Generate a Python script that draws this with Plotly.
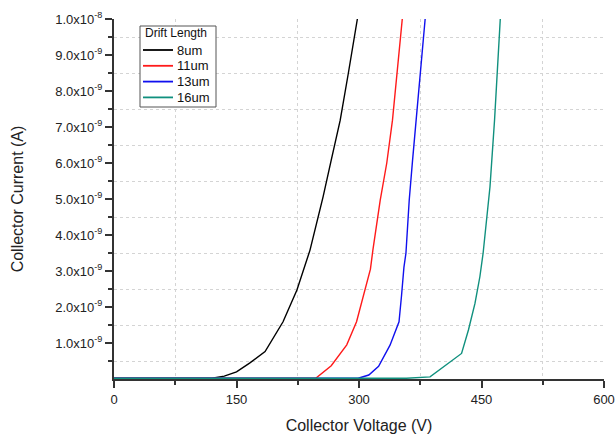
import plotly.graph_objects as go

# Collector voltage (V) and collector current (units of 1e-9 A)
v_8um = [0, 120, 135, 150, 166, 185, 207, 224, 240, 256, 266, 277, 287, 298]
i_8um = [0.02, 0.02, 0.08, 0.2, 0.44, 0.76, 1.59, 2.47, 3.58, 5.06, 6.08, 7.19, 8.5, 10.0]

v_11um = [0, 247, 266, 285, 297, 307, 314, 317, 326, 334, 341, 353]
i_11um = [0.02, 0.02, 0.37, 0.95, 1.59, 2.47, 3.05, 3.58, 4.97, 6.0, 7.19, 10.0]

v_13um = [0, 299, 312, 324, 338, 349, 352, 355, 357.5, 361.5, 365.6, 369.7, 381]
i_13um = [0.02, 0.02, 0.11, 0.35, 0.94, 1.59, 2.3, 3.1, 3.5, 4.97, 6.08, 7.19, 10.0]

v_16um = [0, 358, 387, 407, 425.6, 434, 442, 448, 452, 460.4, 466, 473]
i_16um = [0.02, 0.02, 0.06, 0.39, 0.71, 1.36, 2.1, 2.84, 3.5, 5.34, 7.2, 10.0]

series_names = ["8um", "11um", "13um", "16um"]
series_colors = ["#000000", "#ff1a1a", "#1010ee", "#10907e"]
legend_title = "Drift Length"

y_tick_vals = [1e-9 * k for k in range(1, 11)]
y_tick_text = ["%d.0x10<sup>-9</sup>" % k for k in range(1, 10)] + ["1.0x10<sup>-8</sup>"]
y_grid_vals = [1e-9 * k for k in range(1, 10)]
y_minor_vals = [1e-9 * (k + 0.5) for k in range(0, 10)]
x_tick_vals = [0, 150, 300, 450, 600]
x_grid_vals = [150, 300, 450]
x_minor_vals = [75, 225, 375, 525]

data = [(v_8um, i_8um), (v_11um, i_11um), (v_13um, i_13um), (v_16um, i_16um)]

fig = go.Figure()
for (vx, iy), name, col in zip(data, series_names, series_colors):
    fig.add_trace(go.Scatter(
        x=vx, y=[val * 1e-9 for val in iy], mode="lines", name=name,
        line=dict(color=col, width=1.4), showlegend=False,
    ))

font_family = "Liberation Sans, Arial, sans-serif"
fig.update_layout(
    width=616, height=437,
    margin=dict(l=114, r=12, t=19, b=58),
    paper_bgcolor="white", plot_bgcolor="white",
    font=dict(family=font_family, color="#222", size=13),
    showlegend=False,
)

# ---- legend box (pixel layout converted to paper coordinates) ----
def px_to_paper(px, py):
    return (px - 114) / 490.0, (379 - py) / 360.0

bx0, by0 = px_to_paper(140, 107)
bx1, by1 = px_to_paper(216, 26)
fig.add_shape(type="rect", xref="paper", yref="paper", x0=bx0, y0=by0, x1=bx1, y1=by1,
              line=dict(color="#555", width=1), fillcolor="white", layer="above")
tx, ty = px_to_paper(143, 33.5)
fig.add_annotation(xref="paper", yref="paper", x=tx, y=ty, text=legend_title,
                   showarrow=False, xanchor="left", yanchor="middle",
                   font=dict(size=12, color="#111"))
for k, (name, col) in enumerate(zip(series_names, series_colors)):
    row_y = 50 + k * 15.8
    lx0, ly = px_to_paper(143, row_y)
    lx1, _ = px_to_paper(173, row_y)
    fig.add_shape(type="line", xref="paper", yref="paper", x0=lx0, x1=lx1, y0=ly, y1=ly,
                  line=dict(color=col, width=1.8), layer="above")
    ax_, ay_ = px_to_paper(175, row_y)
    fig.add_annotation(xref="paper", yref="paper", x=ax_, y=ay_, text=name,
                       showarrow=False, xanchor="left", yanchor="middle",
                       font=dict(size=13, color="#111"))

fig.update_xaxes(
    range=[0, 600], tickmode="array", tickvals=x_tick_vals,
    ticktext=[str(t) for t in x_tick_vals],
    showline=True, linecolor="#333", linewidth=2, mirror=False,
    ticks="outside", ticklen=7, tickwidth=1.5, tickcolor="#333",
    showgrid=False, zeroline=False, automargin=False,
    tickfont=dict(size=13),
    title=dict(text="Collector Voltage (V)", font=dict(size=16), standoff=14),
    minor=dict(tickmode="array", tickvals=x_minor_vals, ticks="outside",
               ticklen=4, tickwidth=1.5, tickcolor="#333",
               showgrid=True, gridcolor="#d4d4d4", griddash="dot", gridwidth=1),
)
fig.update_yaxes(
    range=[0, 1e-8], tickmode="array", tickvals=y_tick_vals, ticktext=y_tick_text,
    showline=True, linecolor="#333", linewidth=2, mirror=False,
    ticks="outside", ticklen=7, tickwidth=1.5, tickcolor="#333",
    showgrid=False, zeroline=False, automargin=False,
    tickfont=dict(size=13),
    title=dict(text="Collector Current (A)", font=dict(size=16), standoff=28),
    minor=dict(tickmode="array", tickvals=y_minor_vals, ticks="outside",
               ticklen=4, tickwidth=1.5, tickcolor="#333",
               showgrid=True, gridcolor="#d4d4d4", griddash="dot", gridwidth=1),
)
# overlay axes that carry only the solid interior grid lines
fig.update_layout(
    xaxis2=dict(overlaying="x", anchor="y", range=[0, 600], tickmode="array",
                tickvals=x_grid_vals, showticklabels=False, ticks="",
                showgrid=True, gridcolor="#b8b8b8", gridwidth=1,
                showline=False, zeroline=False, automargin=False, side="bottom"),
    yaxis2=dict(overlaying="y", anchor="x", range=[0, 1e-8], tickmode="array",
                tickvals=y_grid_vals, showticklabels=False, ticks="",
                showgrid=True, gridcolor="#b8b8b8", gridwidth=1,
                showline=False, zeroline=False, automargin=False, side="left"),
)

fig.write_html("out.html", config={"displayModeBar": False},
               post_script="document.body.style.margin='0';")
